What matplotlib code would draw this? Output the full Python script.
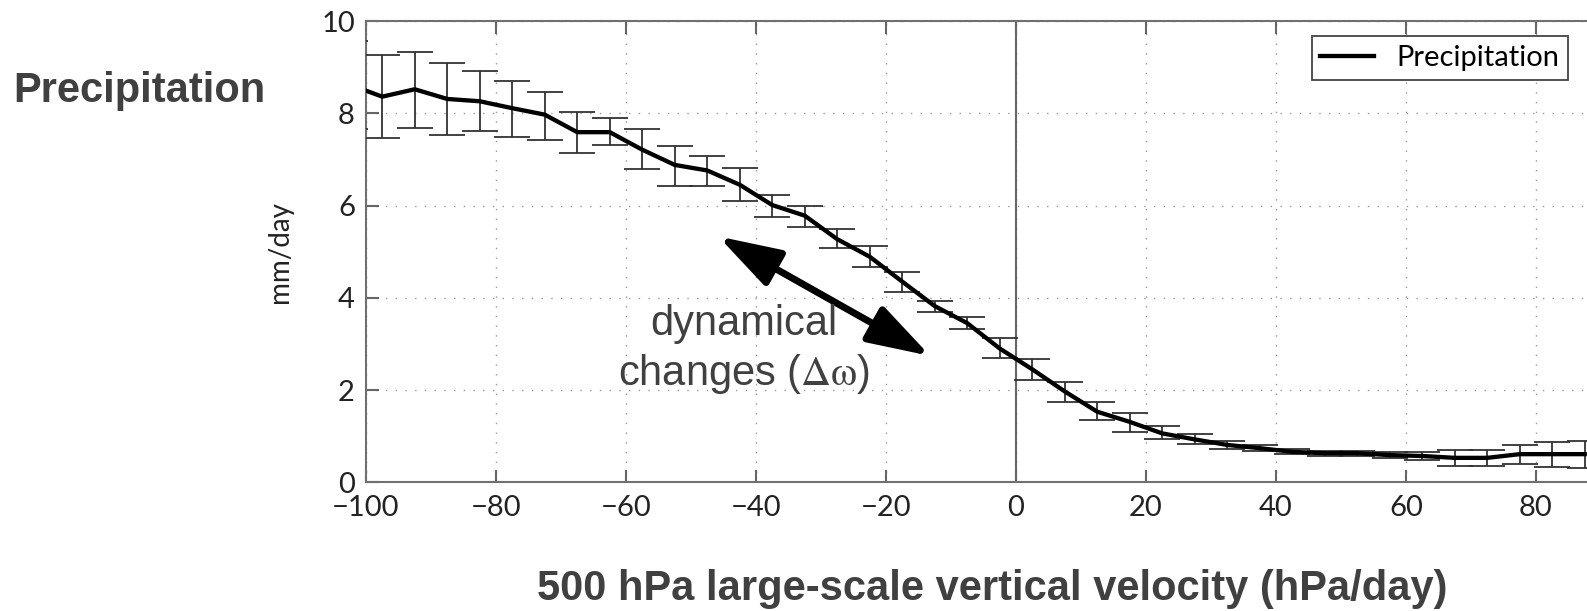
import numpy as np
import matplotlib
matplotlib.use("Agg")
import matplotlib.pyplot as plt

# binned omega500 (hPa/day) and precipitation (mm/day)
omega = [-102.5, -97.5, -92.5, -87.5, -82.5, -77.5, -72.5, -67.5, -62.5, -57.5,
         -52.5, -47.5, -42.5, -37.5, -32.5, -27.5, -22.5, -17.5, -12.5, -7.5,
         -2.5, 2.5, 7.5, 12.5, 17.5, 22.5, 27.5, 32.5, 37.5, 42.5,
         47.5, 52.5, 57.5, 62.5, 67.5, 72.5, 77.5, 82.5, 87.5]
precip = [8.62, 8.36, 8.52, 8.31, 8.26, 8.11, 7.97, 7.59, 7.59, 7.21,
          6.88, 6.76, 6.45, 6.01, 5.78, 5.27, 4.89, 4.35, 3.82, 3.45,
          2.90, 2.45, 1.97, 1.53, 1.31, 1.06, 0.93, 0.81, 0.74, 0.66,
          0.63, 0.63, 0.59, 0.57, 0.53, 0.53, 0.61, 0.61, 0.61]
precip_hi = [9.56, 9.27, 9.33, 9.10, 8.91, 8.71, 8.47, 8.02, 7.90, 7.66,
             7.28, 7.08, 6.81, 6.23, 5.99, 5.49, 5.13, 4.55, 3.94, 3.59,
             3.12, 2.67, 2.17, 1.75, 1.50, 1.21, 1.04, 0.90, 0.81, 0.72,
             0.68, 0.68, 0.65, 0.65, 0.70, 0.71, 0.80, 0.88, 0.90]
precip_lo = [7.66, 7.46, 7.69, 7.52, 7.61, 7.48, 7.43, 7.14, 7.31, 6.80,
             6.43, 6.43, 6.09, 5.75, 5.54, 5.08, 4.66, 4.12, 3.70, 3.32,
             2.69, 2.22, 1.75, 1.35, 1.10, 0.93, 0.83, 0.73, 0.67, 0.61,
             0.58, 0.58, 0.53, 0.49, 0.36, 0.35, 0.40, 0.34, 0.30]

xticks = [-100, -80, -60, -40, -20, 0, 20, 40, 60, 80]
yticks = [0, 2, 4, 6, 8, 10]

plt.rcParams['mathtext.fontset'] = 'stix'

x = np.array(omega)
y = np.array(precip)
err = [y - np.array(precip_lo), np.array(precip_hi) - y]

fig = plt.figure(figsize=(15.87, 6.11), dpi=100)
ax = fig.add_axes([366/1587, 128.7/611, 1221/1587, 461.3/611])

ax.errorbar(x, y, yerr=err, fmt='none', ecolor='#333333', elinewidth=1.3,
            capsize=13, capthick=1.3, zorder=3)
ax.plot(x, y, color='black', lw=3.1, label='Precipitation', zorder=4)
ax.axvline(0, color='#666666', lw=1.5, zorder=2)

ax.set_xlim(-100, 87.85)
ax.set_ylim(0, 10)
ax.set_xticks(xticks)
ax.set_yticks(yticks)
ax.grid(True, color='#9a9a9a', lw=1.0, linestyle=(0, (1, 6)))
ax.tick_params(direction='in', length=9, width=1.5, color='#666666',
               labelsize=21, labelcolor='#222222', top=True, right=False)
ax.tick_params(axis='x', pad=9)
ax.tick_params(axis='y', pad=8)
for lab in ax.get_xticklabels() + ax.get_yticklabels():
    lab.set_family('Lato')
for side in ['left', 'bottom', 'top']:
    ax.spines[side].set_color('#707070')
    ax.spines[side].set_linewidth(1.5)
ax.spines['right'].set_visible(False)

ax.set_ylabel('mm/day', fontsize=20, family='Lato', color='#222222', labelpad=20)

leg = ax.legend(loc='upper left', bbox_to_anchor=(0.7745, 0.967), borderaxespad=0,
                fancybox=False, edgecolor='#444444', framealpha=1,
                prop={'family': 'Lato', 'size': 21},
                handlelength=1.85, handletextpad=0.75, borderpad=0.3)
leg.get_frame().set_linewidth(1.3)

# double arrow + label
ax.annotate('', xy=(-13.2, 2.74), xytext=(-45.8, 5.33),
            arrowprops=dict(arrowstyle='<|-|>,head_length=1.9,head_width=0.6',
                            color='black', lw=5, mutation_scale=20,
                            shrinkA=0, shrinkB=0), zorder=5)
ax.text(-41.8, 2.87, 'dynamical\nchanges ($\\mathrm{\\Delta\\omega}$)', ha='center',
        va='center', fontsize=30, family='Liberation Sans', color='#404040',
        linespacing=1.22, zorder=6)

fig.text(13/1587, 1 - 102/611, 'Precipitation', fontsize=30, fontweight='bold',
         family='Liberation Sans', color='#404040', ha='left', va='baseline')
fig.text(992/1587, 1 - 600/611, '500 hPa large-scale vertical velocity (hPa/day)',
         fontsize=30, fontweight='bold', family='Liberation Sans', color='#404040',
         ha='center', va='baseline')

fig.savefig('out.png', dpi=100)
